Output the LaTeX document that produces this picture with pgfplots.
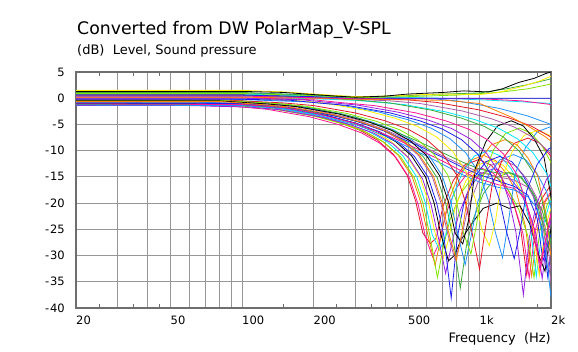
\documentclass[border=0pt]{standalone}
\usepackage{fontspec}
\setmainfont{DejaVu Sans}
\usepackage{pgfplots}
\pgfplotsset{compat=1.18}
\definecolor{cblack}{RGB}{0,0,0}
\definecolor{cred}{RGB}{230,20,40}
\definecolor{cblue}{RGB}{30,30,240}
\definecolor{cgreen}{RGB}{60,170,60}
\definecolor{cpink}{RGB}{255,20,147}
\definecolor{ccyan}{RGB}{0,230,255}
\definecolor{cyellow}{RGB}{255,240,0}
\definecolor{corange}{RGB}{255,128,0}
\definecolor{cpurple}{RGB}{150,30,230}
\definecolor{clime}{RGB}{130,230,0}
\definecolor{corchid}{RGB}{170,90,170}
\definecolor{cdodger}{RGB}{30,144,255}
\definecolor{gridgray}{RGB}{150,150,150}
\definecolor{framegray}{RGB}{110,110,110}
\begin{document}
\begin{tikzpicture}
\useasboundingbox (-76pt,-43pt) rectangle (502pt,308pt);
\begin{axis}[
  at={(0,0)}, anchor=south west,
  scale only axis, width=475pt, height=236pt,
  xmode=log, xmin=20, xmax=2000, ymin=-40, ymax=5,
  ytick={-40,-35,-30,-25,-20,-15,-10,-5,0,5},
  yticklabels={-\kern1pt40,-\kern1pt35,-\kern1pt30,-\kern1pt25,-\kern1pt20,-\kern1pt15,-\kern1pt10,-\kern1pt5,0,5},
  xtick={20,30,40,50,60,70,80,90,100,200,300,400,500,600,700,800,900,1000,2000},
  xticklabels={20,,,50,,,,,100,200,,,500,,,,,1k,2k},
  minor xtick={25,35,45,150,250,350,450,1750},
  grid=major,
  major grid style={gridgray, line width=1pt},
  axis line style={framegray, line width=1.5pt},
  major tick length=0pt, minor tick length=4pt,
  minor tick style={framegray, line width=1pt},
  tick align=inside,
  xticklabel style={anchor=north west, inner sep=0pt, yshift=-8pt, font=\fontsize{11.5}{13}\selectfont},
  yticklabel style={anchor=east, inner sep=0pt, xshift=-11pt, font=\fontsize{11.5}{13}\selectfont},
  every axis plot/.append style={line width=0.8pt, mark=none},
]
% steep bundle
\addplot[cred] coordinates {(20,-0.7)(60,-0.7)(93,-1.0)(124,-1.5)(186,-2.9)(248,-4.4)(310,-6.0)(372,-8.0)(434,-10.7)(496,-14.7)(539,-19.7)(577,-25.7)(620,-27.7)(657,-26.7)(701,-20.7)(775,-15.7)(868,-12.7)(992,-11.7)(1116,-12.7)(1240,-15.2)(1364,-18.7)(1488,-24.7)(1581,-33.7)(1674,-24.7)(1798,-19.7)(1984,-16.7)};
\addplot[cpink] coordinates {(20,-1.3)(60,-1.3)(95,-1.6)(127,-2.1)(191,-3.5)(254,-5.0)(318,-6.6)(381,-8.6)(445,-11.3)(508,-15.3)(552,-20.3)(591,-26.3)(635,-30.3)(673,-27.8)(718,-22.3)(794,-17.3)(889,-14.3)(1016,-13.3)(1143,-14.3)(1270,-16.8)(1397,-20.3)(1524,-25.8)(1619,-34.3)(1715,-25.3)(1842,-20.3)(2032,-17.3)};
\addplot[corange] coordinates {(20,-0.9)(60,-0.9)(98,-1.2)(130,-1.7)(195,-3.1)(260,-4.6)(325,-6.2)(390,-8.2)(455,-10.9)(520,-14.9)(566,-19.9)(605,-25.9)(650,-31.9)(689,-26.4)(735,-19.9)(813,-14.9)(910,-11.9)(1040,-10.9)(1170,-11.9)(1300,-14.4)(1430,-17.9)(1560,-24.4)(1658,-33.9)(1755,-24.9)(1885,-19.9)(2080,-16.9)};
\addplot[clime] coordinates {(20,-1.2)(60,-1.2)(100,-1.5)(133,-2.0)(200,-3.4)(266,-4.9)(333,-6.5)(399,-8.5)(466,-11.2)(532,-15.2)(579,-20.2)(618,-26.2)(665,-34.2)(705,-28.2)(751,-23.2)(831,-18.2)(931,-15.2)(1064,-14.2)(1197,-15.2)(1330,-17.7)(1463,-21.2)(1596,-26.2)(1696,-34.2)(1796,-25.2)(1929,-20.2)(2128,-17.2)};
\addplot[ccyan] coordinates {(20,-1.0)(60,-1.0)(102,-1.3)(136,-1.8)(204,-3.2)(272,-4.7)(340,-6.3)(408,-8.3)(476,-11.0)(544,-15.0)(592,-20.0)(632,-26.0)(680,-29.0)(721,-26.0)(768,-19.0)(850,-14.0)(952,-11.0)(1088,-10.0)(1224,-11.0)(1360,-13.5)(1496,-17.0)(1632,-24.0)(1734,-34.0)(1836,-25.0)(1972,-20.0)(2176,-17.0)};
\addplot[cyellow] coordinates {(20,-0.8)(60,-0.8)(105,-1.1)(140,-1.6)(210,-3.0)(280,-4.5)(350,-6.1)(420,-8.1)(490,-10.8)(560,-14.8)(609,-19.8)(651,-25.8)(700,-30.8)(742,-26.8)(791,-20.8)(875,-15.8)(980,-12.8)(1120,-11.8)(1260,-12.8)(1400,-15.3)(1540,-18.8)(1680,-24.8)(1785,-33.8)(1890,-24.8)(2030,-19.8)};
\addplot[cpurple] coordinates {(20,-1.4)(60,-1.4)(108,-1.7)(144,-2.2)(216,-3.6)(288,-5.1)(360,-6.7)(432,-8.7)(504,-11.4)(576,-15.4)(626,-20.4)(670,-26.4)(720,-33.4)(763,-27.9)(814,-22.4)(900,-17.4)(1008,-14.4)(1152,-13.4)(1296,-14.4)(1440,-16.9)(1584,-20.4)(1728,-25.9)(1836,-34.4)(1944,-25.4)(2088,-20.4)};
\addplot[cblack] coordinates {(20,-1.0)(60,-1.0)(111,-1.3)(148,-1.8)(222,-3.2)(296,-4.7)(370,-6.3)(444,-8.3)(518,-11.0)(592,-15.0)(644,-20.0)(688,-26.0)(740,-31.0)(784,-30.0)(836,-27.0)(925,-24.0)(1036,-21.0)(1184,-20.0)(1332,-21.0)(1480,-20.5)(1628,-24.0)(1776,-30.0)(1887,-33.0)(1998,-25.0)(2146,-20.0)};
\addplot[cblue] coordinates {(20,-1.1)(60,-1.1)(114,-1.4)(152,-1.9)(228,-3.3)(304,-4.8)(380,-6.4)(456,-8.4)(532,-11.1)(608,-15.1)(661,-20.1)(707,-26.1)(760,-38.1)(806,-26.6)(859,-20.1)(950,-15.1)(1064,-12.1)(1216,-11.1)(1368,-12.1)(1520,-14.6)(1672,-18.1)(1824,-24.6)(1938,-34.1)(2052,-25.1)};
\addplot[corchid] coordinates {(20,-0.9)(60,-0.9)(119,-1.2)(158,-1.7)(237,-3.1)(316,-4.6)(395,-6.2)(474,-8.2)(553,-10.9)(632,-14.9)(687,-19.9)(735,-25.9)(790,-30.9)(837,-26.9)(893,-20.9)(988,-15.9)(1106,-12.9)(1264,-11.9)(1422,-12.9)(1580,-15.4)(1738,-18.9)(1896,-24.9)(2015,-33.9)};
\addplot[cgreen] coordinates {(20,-1.2)(60,-1.2)(125,-1.5)(166,-2.0)(249,-3.4)(332,-4.9)(415,-6.5)(498,-8.5)(581,-11.2)(664,-15.2)(722,-20.2)(772,-26.2)(830,-36.2)(880,-28.2)(938,-23.2)(1038,-18.2)(1162,-15.2)(1328,-14.2)(1494,-15.2)(1660,-17.7)(1826,-21.2)(1992,-26.2)(2117,-34.2)};
\addplot[cdodger] coordinates {(20,-0.75)(60,-0.75)(131,-1.05)(174,-1.55)(261,-2.95)(348,-4.45)(435,-6.05)(522,-8.05)(609,-10.75)(696,-14.75)(757,-19.75)(809,-25.75)(870,-31.75)(922,-26.25)(983,-19.75)(1088,-14.75)(1218,-11.75)(1392,-10.75)(1566,-11.75)(1740,-14.25)(1914,-17.75)(2088,-24.25)};
% gentle bundle
\addplot[cblue] coordinates {(20,-0.9)(100,-1.0)(150,-1.6)(200,-2.5)(300,-4.3)(400,-6.3)(460,-7.5)(550,-9.0)(700,-11.3)(850,-13.2)(1000,-14.6)(1200,-15.8)(1400,-16.8)(1600,-18.5)(1750,-23)(1850,-31)(2000,-26)};
\addplot[cpink] coordinates {(20,-1.1)(100,-1.2)(150,-1.8)(200,-2.8)(300,-4.8)(400,-6.9)(460,-8.1)(550,-9.7)(700,-12.0)(850,-14.0)(1000,-15.4)(1200,-16.5)(1400,-17.2)(1550,-19)(1700,-25)(1800,-33)(1950,-24)(2000,-22)};
\addplot[corchid] coordinates {(20,-0.6)(100,-0.7)(150,-1.3)(200,-2.2)(300,-4.0)(400,-6.0)(460,-7.2)(550,-8.7)(700,-11.0)(850,-12.8)(1000,-14.1)(1200,-15.0)(1400,-15.6)(1600,-17)(1800,-21)(1900,-28)(2000,-35)};
\addplot[cdodger] coordinates {(20,-1.3)(100,-1.4)(150,-2.0)(200,-3.0)(300,-5.0)(400,-7.2)(460,-8.5)(550,-10.2)(700,-12.6)(850,-14.6)(1000,-16.0)(1200,-17.0)(1400,-17.5)(1600,-18.8)(1750,-21)(1900,-29)(2000,-38)};
\addplot[cgreen] coordinates {(20,-0.4)(100,-0.5)(150,-1.1)(200,-1.9)(300,-3.6)(400,-5.5)(460,-6.7)(550,-8.2)(700,-10.4)(850,-12.2)(1000,-13.5)(1200,-14.3)(1350,-14.2)(1500,-15)(1700,-18.5)(1850,-24)(2000,-30)};
% lobed curves
\addplot[cdodger] coordinates {(20,-0.1)(80,-0.1)(188,-0.7)(250,-1.2)(375,-2.6)(500,-4.1)(625,-5.7)(750,-7.7)(875,-10.4)(1000,-14.4)(1088,-19.4)(1163,-25.4)(1250,-30.4)(1325,-23.4)(1413,-14.4)(1563,-9.4)(1750,-6.4)(2000,-5.4)};
\addplot[cyellow] coordinates {(20,0.2)(80,0.2)(165,-0.4)(220,-0.9)(330,-2.3)(440,-3.8)(550,-5.4)(660,-7.4)(770,-10.1)(880,-14.1)(957,-19.1)(1023,-25.1)(1100,-28.1)(1166,-23.6)(1243,-15.1)(1375,-10.1)(1540,-7.1)(1760,-6.1)(1980,-7.1)(2200,-9.6)};
\addplot[cred] coordinates {(20,-0.3)(80,-0.3)(150,-0.9)(200,-1.4)(300,-2.8)(400,-4.3)(500,-5.9)(600,-7.9)(700,-10.6)(800,-14.6)(870,-19.6)(930,-25.6)(1000,-32.6)(1060,-24.6)(1130,-16.6)(1250,-11.6)(1400,-8.6)(1600,-7.6)(1800,-8.6)(2000,-11.1)};
\addplot[clime] coordinates {(20,-0.4)(80,-0.4)(138,-1.0)(184,-1.5)(276,-2.9)(368,-4.4)(460,-6.0)(552,-8.0)(644,-10.7)(736,-14.7)(800,-19.7)(856,-25.7)(920,-29.7)(975,-23.7)(1040,-14.7)(1150,-9.7)(1288,-6.7)(1472,-5.7)(1656,-6.7)(1840,-9.2)(2024,-12.7)};
\addplot[cblack] coordinates {(20,-0.5)(80,-0.5)(128,-1.1)(170,-1.6)(255,-3.0)(340,-4.5)(425,-6.1)(510,-8.1)(595,-10.8)(680,-14.8)(740,-19.8)(791,-25.8)(850,-27.8)(901,-23.1)(961,-13.3)(1063,-8.3)(1190,-5.3)(1360,-4.3)(1530,-5.3)(1700,-7.8)(1870,-11.3)(2040,-21)};
\addplot[corange] coordinates {(20,-0.6)(80,-0.6)(120,-1.2)(160,-1.7)(240,-3.1)(320,-4.6)(400,-6.2)(480,-8.2)(560,-10.9)(640,-14.9)(696,-19.9)(744,-25.9)(800,-30.9)(848,-24.9)(904,-16.9)(1000,-11.9)(1120,-8.9)(1280,-7.9)(1440,-8.9)(1600,-11.4)(1760,-14.9)(1920,-22.9)(2040,-33.9)};
% fan
\addplot[cdodger] coordinates {(20,1.0)(100,1.0)(200,0.6)(300,0.3)(600,0.0)(800,-0.5)(1200,-1.9)(1600,-3.4)(2000,-5.0)};
\addplot[cred] coordinates {(20,0.7)(100,0.7)(200,0.3)(300,0.0)(495,-0.3)(660,-0.8)(990,-2.2)(1320,-3.7)(1650,-5.3)(1980,-7.3)(2310,-10)};
\addplot[corchid] coordinates {(20,0.5)(100,0.5)(200,0.1)(300,-0.2)(420,-0.5)(560,-1.0)(840,-2.4)(1120,-3.9)(1400,-5.5)(1680,-7.5)(1960,-10.2)(2240,-14.2)};
\addplot[ccyan] coordinates {(20,0.3)(100,0.3)(200,-0.1)(300,-0.4)(360,-0.7)(480,-1.2)(720,-2.6)(960,-4.1)(1200,-5.7)(1440,-7.7)(1680,-10.4)(1920,-14.4)(2088,-19.4)};
\addplot[cgreen] coordinates {(20,0.6)(100,0.6)(200,0.2)(315,-0.4)(420,-0.9)(630,-2.3)(840,-3.8)(1050,-5.4)(1260,-7.4)(1470,-10.1)(1680,-14.1)(1827,-19.1)(1953,-25.1)(2100,-33)};
\addplot[cpink] coordinates {(20,0.1)(100,0.1)(200,-0.3)(270,-0.9)(360,-1.4)(540,-2.8)(720,-4.3)(900,-5.9)(1080,-7.9)(1260,-10.6)(1440,-14.6)(1566,-19.6)(1674,-25.6)(1800,-31.6)(1908,-26.6)(2034,-20.6)};
\addplot[cpurple] coordinates {(20,0)(100,0)(180,-0.3)(230,-0.8)(306,-1.3)(459,-2.7)(612,-4.2)(765,-5.8)(918,-7.8)(1071,-10.5)(1224,-14.5)(1331,-19.5)(1423,-25.5)(1530,-37.5)(1622,-26.5)(1729,-20.5)(1913,-15.5)(2142,-12.5)};
\addplot[cblue] coordinates {(20,-0.2)(100,-0.2)(160,-0.4)(210,-0.9)(280,-1.4)(420,-2.8)(560,-4.3)(700,-5.9)(840,-7.9)(980,-10.6)(1120,-14.6)(1218,-19.6)(1302,-25.6)(1400,-30.6)(1484,-25.1)(1582,-17.6)(1750,-12.6)(1960,-9.6)(2240,-8.6)};
% top / flat
\addplot[corange] coordinates {(20,0.2)(100,0.2)(200,0)(300,-0.2)(500,-0.3)(720,-0.4)(1000,-1)(1360,-3.6)(1600,-5.3)(1900,-7.4)(2000,-8.2)};
\addplot[ccyan] coordinates {(20,0.8)(100,0.8)(200,0.4)(300,0.1)(500,0.1)(700,0.0)(1000,-0.3)(1400,-0.6)(2000,-1.0)};
\addplot[cpink] coordinates {(20,0.4)(100,0.4)(200,0.1)(300,-0.1)(500,-0.1)(1000,-0.1)(1500,-0.5)(2000,-1.2)};
\addplot[cblue] coordinates {(20,0.6)(100,0.6)(200,0.3)(300,0.05)(500,0)(1000,0)(2000,0)};
\addplot[clime] coordinates {(20,0.9)(100,0.9)(200,0.5)(300,0.1)(500,0.3)(800,0.6)(1200,1.1)(1600,1.8)(2000,2.7)};
\addplot[cgreen] coordinates {(20,1.1)(100,1.1)(200,0.6)(300,0.2)(500,0.5)(700,0.8)(1000,1.0)(1300,1.8)(1600,2.6)(2000,3.7)};
\addplot[cyellow] coordinates {(20,1.5)(100,1.5)(150,1.2)(200,0.8)(300,0.3)(400,0.4)(500,0.6)(700,0.8)(1000,0.7)(1200,1.1)(1500,2.2)(1800,3.3)(2000,4.2)};
\addplot[cblack] coordinates {(20,1.3)(100,1.3)(150,1.1)(200,0.7)(250,0.4)(300,0.2)(400,0.4)(500,0.8)(700,1.1)(860,1.4)(1090,1.2)(1250,1.8)(1460,3.0)(1700,3.8)(1900,4.7)(2000,5.0)};
\end{axis}
\node[anchor=base west, inner sep=0pt, font=\fontsize{17.3}{19}\selectfont] at (1pt,273pt) {Converted from DW PolarMap\_V-SPL};
\node[anchor=base west, inner sep=0pt, font=\fontsize{13}{15}\selectfont] at (1pt,253.5pt) {(dB)\ \ Level, Sound pressure};
\node[anchor=base east, inner sep=0pt, font=\fontsize{13}{15}\selectfont] at (475pt,-34pt) {Frequency\ \ (Hz)};
\end{tikzpicture}
\end{document}
